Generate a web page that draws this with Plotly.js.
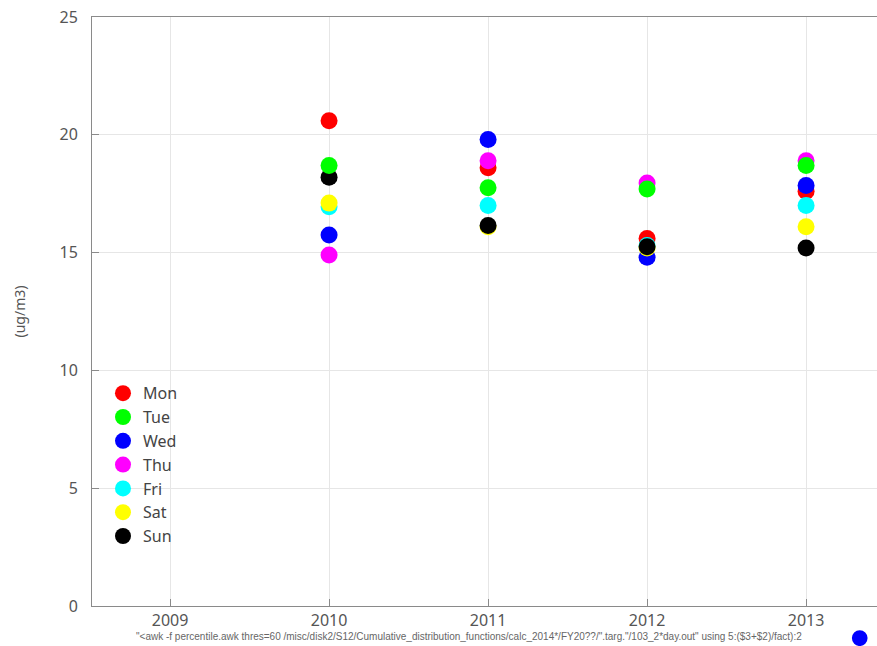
<!DOCTYPE html>
<html>
<head>
<meta charset="utf-8">
<script src="https://cdn.plot.ly/plotly-3.0.1.min.js"></script>
<style>
  html, body { margin: 0; padding: 0; background: #fff; }
  #chart { width: 877px; height: 646px; }
</style>
</head>
<body>
<div id="chart"></div>
<script>
// Yearly weekday values (ug/m3)
const years = [2010, 2011, 2012, 2013];
const days = ['Mon', 'Tue', 'Wed', 'Thu', 'Fri', 'Sat', 'Sun'];
const colors = ['#ff0000', '#00ff00', '#0000ff', '#ff00ff', '#00ffff', '#ffff00', '#000000'];

const mon = [20.6, 18.6, 15.6, 17.6];
const tue = [18.7, 17.75, 17.7, 18.7];
const wed = [15.75, 19.8, 14.8, 17.85];
const thu = [14.9, 18.9, 17.95, 18.9];
const fri = [16.95, 17.0, 15.3, 17.0];
const sat = [17.1, 16.1, 15.2, 16.1];
const sun = [18.2, 16.15, 15.25, 15.2];

const series = [mon, tue, wed, thu, fri, sat, sun];

const tickYears = [2009, 2010, 2011, 2012, 2013];
const yTicks = [0, 5, 10, 15, 20, 25];

const cmdText = '"<awk -f percentile.awk thres=60 /misc/disk2/S12/Cumulative_distribution_functions/calc_2014*/FY20??/".targ."/103_2*day.out" using 5:($3+$2)/fact):2';

// Tuesday is painted last so it sits on top of the other markers
const drawOrder = [0, 2, 3, 4, 5, 6, 1];
const traces = drawOrder.map(i => ({
  type: 'scatter',
  mode: 'markers',
  name: days[i],
  x: years,
  y: series[i],
  legendrank: i + 1,
  marker: { color: colors[i], size: 17, line: { width: 0 } },
  hoverinfo: 'x+y+name'
}));

const layout = {
  width: 877,
  height: 646,
  margin: { l: 92, r: 0, t: 17, b: 40 },
  paper_bgcolor: '#ffffff',
  plot_bgcolor: '#ffffff',
  font: { family: 'Noto Sans, Open Sans, sans-serif', color: '#555555', size: 16 },
  showlegend: true,
  legend: {
    x: 0.014, y: 0.39, xanchor: 'left', yanchor: 'top',
    bgcolor: 'rgba(0,0,0,0)',
    font: { size: 16, color: '#444444' },
    itemsizing: 'trace',
    tracegroupgap: 0
  },
  xaxis: {
    range: [2008.509, 2013.446],
    tickvals: tickYears,
    ticktext: tickYears.map(String),
    showgrid: true,
    gridcolor: '#e6e6e6',
    gridwidth: 1,
    zeroline: false,
    showline: true,
    linecolor: '#8a8a8a',
    linewidth: 1,
    mirror: true,
    ticks: 'inside',
    ticklen: 7,
    tickcolor: '#8a8a8a',
    tickfont: { size: 16, color: '#555555' }
  },
  yaxis: {
    range: [0, 25],
    tickvals: yTicks,
    showgrid: true,
    gridcolor: '#e6e6e6',
    gridwidth: 1,
    zeroline: false,
    showline: true,
    linecolor: '#8a8a8a',
    linewidth: 1,
    mirror: false,
    ticks: 'inside',
    ticklen: 7,
    tickcolor: '#8a8a8a',
    ticklabelstandoff: 10,
    tickfont: { size: 16, color: '#555555' },
    title: { text: '(ug/m3)', font: { size: 14, color: '#555555' }, standoff: 30 }
  },
  annotations: [{
    xref: 'paper', yref: 'paper',
    x: 0.48, y: -0.052,
    xanchor: 'center', yanchor: 'middle',
    text: cmdText,
    showarrow: false,
    font: { size: 10, color: '#666666', family: 'Liberation Sans Narrow, Arial Narrow, sans-serif' }
  }],
  shapes: [{
    type: 'circle',
    xref: 'paper', yref: 'paper',
    x0: 0.968, x1: 0.988,
    y0: -0.068, y1: -0.041,
    fillcolor: '#0000ff',
    line: { width: 0 }
  }]
};

Plotly.newPlot('chart', traces, layout, { displayModeBar: false, staticPlot: true });
</script>
</body>
</html>
